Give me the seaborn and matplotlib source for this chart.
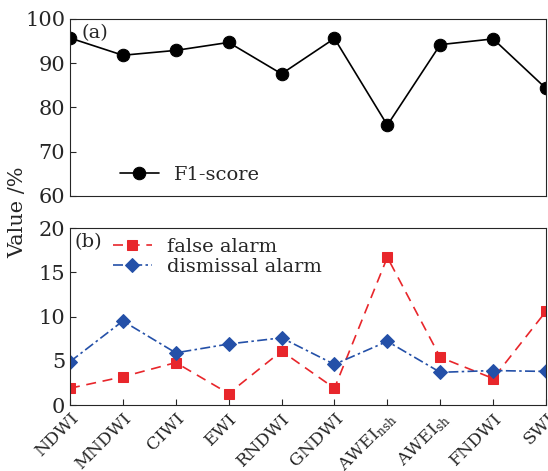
import matplotlib
matplotlib.use("Agg")
import matplotlib.pyplot as plt
import seaborn as sns
import pandas as pd
import numpy as np

categories = ["NDWI", "MNDWI", "CIWI", "EWI", "RNDWI", "GNDWI",
              r"AWEI$_\mathregular{nsh}$", r"AWEI$_\mathregular{sh}$", "FNDWI", "SWI"]
f1_score = [95.7, 91.8, 92.9, 94.7, 87.6, 95.6, 76.0, 94.2, 95.5, 84.3]
false_alarm = [1.9, 3.2, 4.8, 1.3, 6.1, 1.9, 16.7, 5.4, 3.0, 10.6]
dismissal_alarm = [4.9, 9.5, 5.9, 6.9, 7.6, 4.6, 7.2, 3.7, 3.9, 3.8]

sns.set_style("ticks")
plt.rcParams['font.family'] = ['DejaVu Serif']
plt.rcParams['mathtext.fontset'] = 'dejavuserif'

x = np.arange(len(categories))
df = pd.DataFrame({"x": x, "f1": f1_score, "fa": false_alarm, "da": dismissal_alarm})

fig = plt.figure(figsize=(5.48, 4.71), dpi=100)
ax1 = fig.add_axes([0.1277, 0.584, 0.8687, 0.3757])
ax2 = fig.add_axes([0.1277, 0.140, 0.8687, 0.3757])

sns.lineplot(data=df, x="x", y="f1", ax=ax1, color="black", marker="o",
             markersize=9, markeredgecolor="black", linewidth=1.2, label="F1-score")
sns.lineplot(data=df, x="x", y="fa", ax=ax2, color="#e8262b", marker="s",
             markersize=7, markeredgecolor="#e8262b", linewidth=1.2,
             linestyle=(0, (6, 4)), label="false alarm")
sns.lineplot(data=df, x="x", y="da", ax=ax2, color="#2450a8", marker="D",
             markersize=7.5, markeredgecolor="#2450a8", linewidth=1.2,
             linestyle=(0, (6, 2, 1.5, 2)), label="dismissal alarm")

for ax in (ax1, ax2):
    ax.set_xlim(0, 9)
    ax.set_xlabel("")
    ax.set_ylabel("")
    ax.tick_params(direction="in", labelsize=15, length=4, width=0.8)
    for s in ax.spines.values():
        s.set_linewidth(0.8)

ax1.set_ylim(60, 100)
ax1.set_yticks([60, 70, 80, 90, 100])
ax1.set_xticks(x)
ax1.tick_params(axis="x", labelbottom=False, length=0)
ax2.set_ylim(0, 20)
ax2.set_yticks([0, 5, 10, 15, 20])
ax2.set_xticks(x)
ax2.set_xticklabels(categories, rotation=45, ha="right", rotation_mode="anchor")
ax2.tick_params(axis="x", labelsize=12.5)

ax1.text(0.025, 0.97, "(a)", transform=ax1.transAxes, fontsize=14, va="top", ha="left")
ax2.text(0.01, 0.97, "(b)", transform=ax2.transAxes, fontsize=14, va="top", ha="left")

ax1.legend(loc="lower left", frameon=False, fontsize=14, handlelength=2.0,
           borderaxespad=0.2, bbox_to_anchor=(0.08, 0.0))
ax2.legend(loc="upper left", frameon=False, fontsize=14, handlelength=2.0,
           borderaxespad=0.1, labelspacing=0.1, bbox_to_anchor=(0.07, 1.0))

fig.text(0.033, 0.55, "Value /%", rotation=90, fontsize=15, va="center", ha="center")

fig.savefig("out.png", dpi=100)
